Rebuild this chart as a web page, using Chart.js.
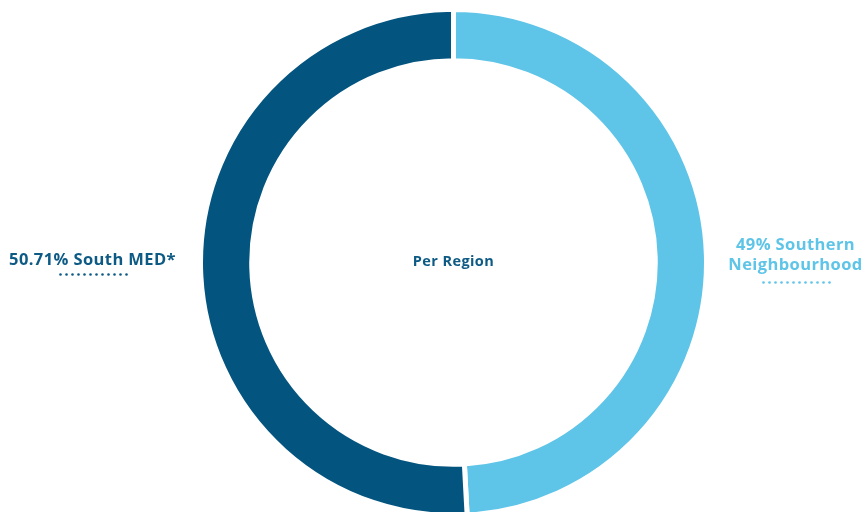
<!DOCTYPE html>
<html>
<head>
<meta charset="utf-8">
<script src="https://cdn.jsdelivr.net/npm/chart.js@4/dist/chart.umd.min.js"></script>
<style>
html,body{margin:0;padding:0;background:#fff;}
#wrap{width:864px;height:512px;position:relative;}
</style>
</head>
<body>
<div id="wrap"><canvas id="c" width="864" height="512"></canvas></div>
<script>
const categories = ["Southern Neighbourhood", "South MED*"];
const values = [49, 50.71];
const valueLabels = ["49%", "50.71%"];
const centerTitle = "Per Region";
const colors = ["#5ec4e8", "#03557f"];
const textColors = ["#5ec4e8", "#0d5a85"];

const labelPlugin = {
  id: 'labelPlugin',
  afterDraw(chart) {
    const ctx = chart.ctx;
    const meta = chart.getDatasetMeta(0);
    const arc = meta.data[0];
    const cx = arc.x, cy = arc.y;
    ctx.save();
    ctx.textBaseline = 'middle';
    ctx.letterSpacing = '0.4px';
    // center title
    ctx.font = 'bold 14.5px "Open Sans"';
    ctx.fillStyle = textColors[1];
    ctx.textAlign = 'center';
    ctx.fillText(centerTitle, cx, cy - 1);

    function dots(xc, y, n, color) {
      const sp = 6.0;
      const x0 = xc - sp * (n - 1) / 2;
      ctx.fillStyle = color;
      for (let i = 0; i < n; i++) {
        ctx.beginPath();
        ctx.arc(x0 + i * sp, y, 1.3, 0, Math.PI * 2);
        ctx.fill();
      }
    }
    ctx.font = 'bold 16.5px "Open Sans"';
    // right label (Southern Neighbourhood)
    ctx.fillStyle = textColors[0];
    ctx.textAlign = 'center';
    const rx = cx + 342;
    ctx.fillText(valueLabels[0] + ' ' + categories[0].split(' ')[0], rx, cy - 17);
    ctx.fillText(categories[0].split(' ')[1], rx, cy + 3);
    dots(rx + 1, cy + 20, 12, textColors[0]);

    // left label (South MED*)
    ctx.fillStyle = textColors[1];
    ctx.textAlign = 'center';
    const lx = cx - 361;
    ctx.fillText(valueLabels[1] + ' ' + categories[1], lx, cy - 2);
    dots(lx + 1, cy + 12, 12, textColors[1]);
    ctx.restore();
  }
};

new Chart(document.getElementById('c'), {
  type: 'doughnut',
  data: {
    labels: categories,
    datasets: [{
      data: values,
      backgroundColor: colors,
      borderColor: '#ffffff',
      borderWidth: 5,
      hoverOffset: 0
    }]
  },
  options: {
    responsive: false,
    animation: false,
    radius: 253,
    cutout: 197,
    layout: { padding: { left: 43, top: 13, right: 0, bottom: 0 } },
    plugins: {
      legend: { display: false },
      tooltip: { enabled: false },
      title: { display: false }
    }
  },
  plugins: [labelPlugin]
});
</script>
</body>
</html>
